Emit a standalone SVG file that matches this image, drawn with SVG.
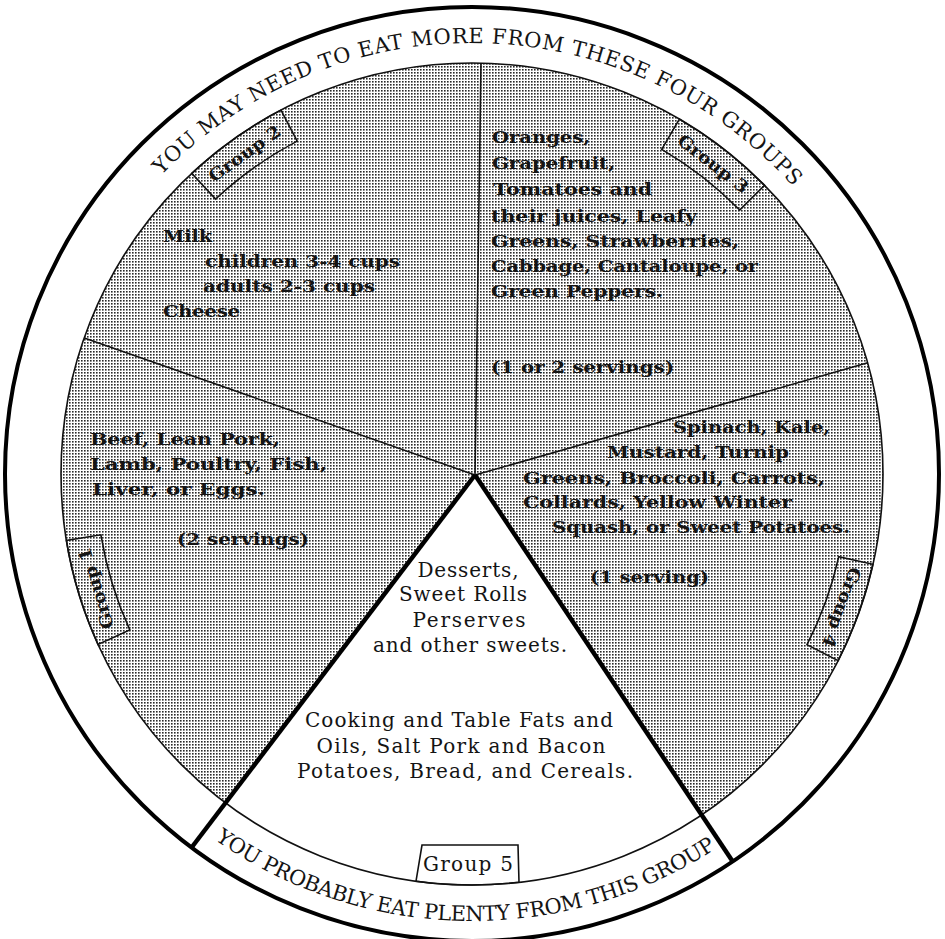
<svg xmlns="http://www.w3.org/2000/svg" width="945" height="939" viewBox="0 0 945 939">
<style>
.t{font-family:"DejaVu Serif","Liberation Serif",serif;fill:#141414}
.typ{font-size:16px;font-weight:bold}
.reg{font-size:20px}
.band{font-size:21px}
.lbl{font-size:17px;font-weight:bold}
.thin{stroke:#111;stroke-width:1.6;fill:none}
.thick{stroke:#000;stroke-width:4.5;fill:none;stroke-linecap:butt}
.box{stroke:#111;stroke-width:1.6;fill:none}
</style>
<defs>
<pattern id="dots" width="3" height="3" patternUnits="userSpaceOnUse">
<rect width="3" height="3" fill="#fff"/>
<rect width="1.6" height="1.6" fill="#2a2a2a"/>
</pattern>
<path id="topArc" d="M 41 474 A 431 431 0 0 1 903 474"/>
<path id="botArc" d="M 25 474 A 447 447 0 0 0 919 474"/>
</defs>
<rect width="945" height="939" fill="#fff"/>
<g id="rings">
<path d="M 475 475 L 225.5 802.9 A 411 411 0 1 1 701.6 814.9 Z" fill="url(#dots)"/>
<circle cx="472" cy="474" r="467" fill="none" stroke="#000" stroke-width="4"/>
<circle cx="472" cy="474" r="411" class="thin"/>
</g>
<g id="connectors">
<line class="thin" x1="475" y1="475" x2="84.3" y2="338"/>
<line class="thin" x1="475" y1="475" x2="481" y2="63"/>
<line class="thin" x1="475" y1="475" x2="867.7" y2="362.8"/>
<line class="thick" x1="475" y1="475" x2="191.6" y2="847.5"/>
<line class="thick" x1="475" y1="475" x2="732.7" y2="861.5"/>
</g>
<g id="band-top">
<text class="t band" text-anchor="middle" letter-spacing="0.7"><textPath href="#topArc" startOffset="685">YOU MAY NEED TO EAT MORE FROM THESE FOUR GROUPS</textPath></text>
</g>
<g id="band-bottom">
<text class="t band" text-anchor="middle" letter-spacing="-0.4"><textPath href="#botArc" startOffset="694">YOU PROBABLY EAT PLENTY FROM THIS GROUP</textPath></text>
</g>
<g id="group1">
<path class="box" d="M 98 644.4 A 411 411 0 0 1 66.4 540.4 L 100.9 534.8 A 376 376 0 0 0 129.8 629.9 Z"/>
<text class="t lbl" x="472" y="87" text-anchor="middle" textLength="84" lengthAdjust="spacingAndGlyphs" transform="rotate(253.1 472 474)">Group 1</text>
<g class="t typ">
<text x="90" y="445" textLength="190" lengthAdjust="spacingAndGlyphs">Beef, Lean Pork,</text>
<text x="90" y="470" textLength="237" lengthAdjust="spacingAndGlyphs">Lamb, Poultry, Fish,</text>
<text x="92" y="495" textLength="173" lengthAdjust="spacingAndGlyphs">Liver, or Eggs.</text>
<text x="177" y="545" textLength="132" lengthAdjust="spacingAndGlyphs">(2 servings)</text>
</g>
</g>
<g id="group2">
<path class="box" d="M 191.7 173.4 A 411 411 0 0 1 281 110.1 L 297.2 141.1 A 376 376 0 0 0 215.6 199 Z"/>
<text class="t lbl" x="472" y="87" text-anchor="middle" textLength="84" lengthAdjust="spacingAndGlyphs" transform="rotate(-35.35 472 474)">Group 2</text>
<g class="t typ">
<text x="163" y="242" textLength="49" lengthAdjust="spacingAndGlyphs">Milk</text>
<text x="205" y="267" textLength="195" lengthAdjust="spacingAndGlyphs">children 3-4 cups</text>
<text x="203" y="292" textLength="172" lengthAdjust="spacingAndGlyphs">adults 2-3 cups</text>
<text x="163" y="317" textLength="77" lengthAdjust="spacingAndGlyphs">Cheese</text>
</g>
</g>
<g id="group3">
<path class="box" d="M 679.4 119.1 A 411 411 0 0 1 764.6 185.4 L 739.7 210 A 376 376 0 0 0 661.7 149.4 Z"/>
<text class="t lbl" x="472" y="87" text-anchor="middle" textLength="84" lengthAdjust="spacingAndGlyphs" transform="rotate(37.85 472 474)">Group 3</text>
<g class="t typ">
<text x="492" y="143" textLength="98" lengthAdjust="spacingAndGlyphs">Oranges,</text>
<text x="492" y="169" textLength="123" lengthAdjust="spacingAndGlyphs">Grapefruit,</text>
<text x="493" y="195" textLength="159" lengthAdjust="spacingAndGlyphs">Tomatoes  and</text>
<text x="491" y="222" textLength="206" lengthAdjust="spacingAndGlyphs">their juices, Leafy</text>
<text x="491" y="247" textLength="248" lengthAdjust="spacingAndGlyphs">Greens, Strawberries,</text>
<text x="491" y="272" textLength="267" lengthAdjust="spacingAndGlyphs">Cabbage, Cantaloupe, or</text>
<text x="491" y="297" textLength="172" lengthAdjust="spacingAndGlyphs">Green Peppers.</text>
<text x="491" y="373" textLength="183" lengthAdjust="spacingAndGlyphs">(1 or 2 servings)</text>
</g>
</g>
<g id="group4">
<path class="box" d="M 872.9 564.3 A 411 411 0 0 1 838.2 660.6 L 807 644.7 A 376 376 0 0 0 838.8 556.6 Z"/>
<text class="t lbl" x="472" y="87" text-anchor="middle" textLength="84" lengthAdjust="spacingAndGlyphs" transform="rotate(109.85 472 474)">Group 4</text>
<g class="t typ">
<text x="673" y="433" textLength="157" lengthAdjust="spacingAndGlyphs">Spinach, Kale,</text>
<text x="607" y="458" textLength="182" lengthAdjust="spacingAndGlyphs">Mustard, Turnip</text>
<text x="523" y="484" textLength="302" lengthAdjust="spacingAndGlyphs">Greens, Broccoli, Carrots,</text>
<text x="523" y="508" textLength="269" lengthAdjust="spacingAndGlyphs">Collards, Yellow Winter</text>
<text x="552" y="533" textLength="298" lengthAdjust="spacingAndGlyphs">Squash, or Sweet Potatoes.</text>
<text x="590" y="583" textLength="119" lengthAdjust="spacingAndGlyphs">(1 serving)</text>
</g>
</g>
<g id="group5">
<path class="box" d="M 422 845 L 518 845 L 519 882.3 A 411 411 0 0 1 416 881.2 Z"/>
<text class="t" style="font-size:20px" x="468" y="871" text-anchor="middle" textLength="90">Group 5</text>
<g class="t reg" text-anchor="middle">
<text x="468" y="577" textLength="101">Desserts,</text>
<text x="463" y="601" textLength="128">Sweet Rolls</text>
<text x="469" y="627" textLength="113">Perserves</text>
<text x="470" y="652" textLength="194">and other sweets.</text>
<text x="459" y="727" textLength="308">Cooking and Table Fats and</text>
<text x="461" y="753" textLength="289">Oils, Salt Pork and Bacon</text>
<text x="465" y="778" textLength="336">Potatoes, Bread, and Cereals.</text>
</g>
</g>
</svg>
